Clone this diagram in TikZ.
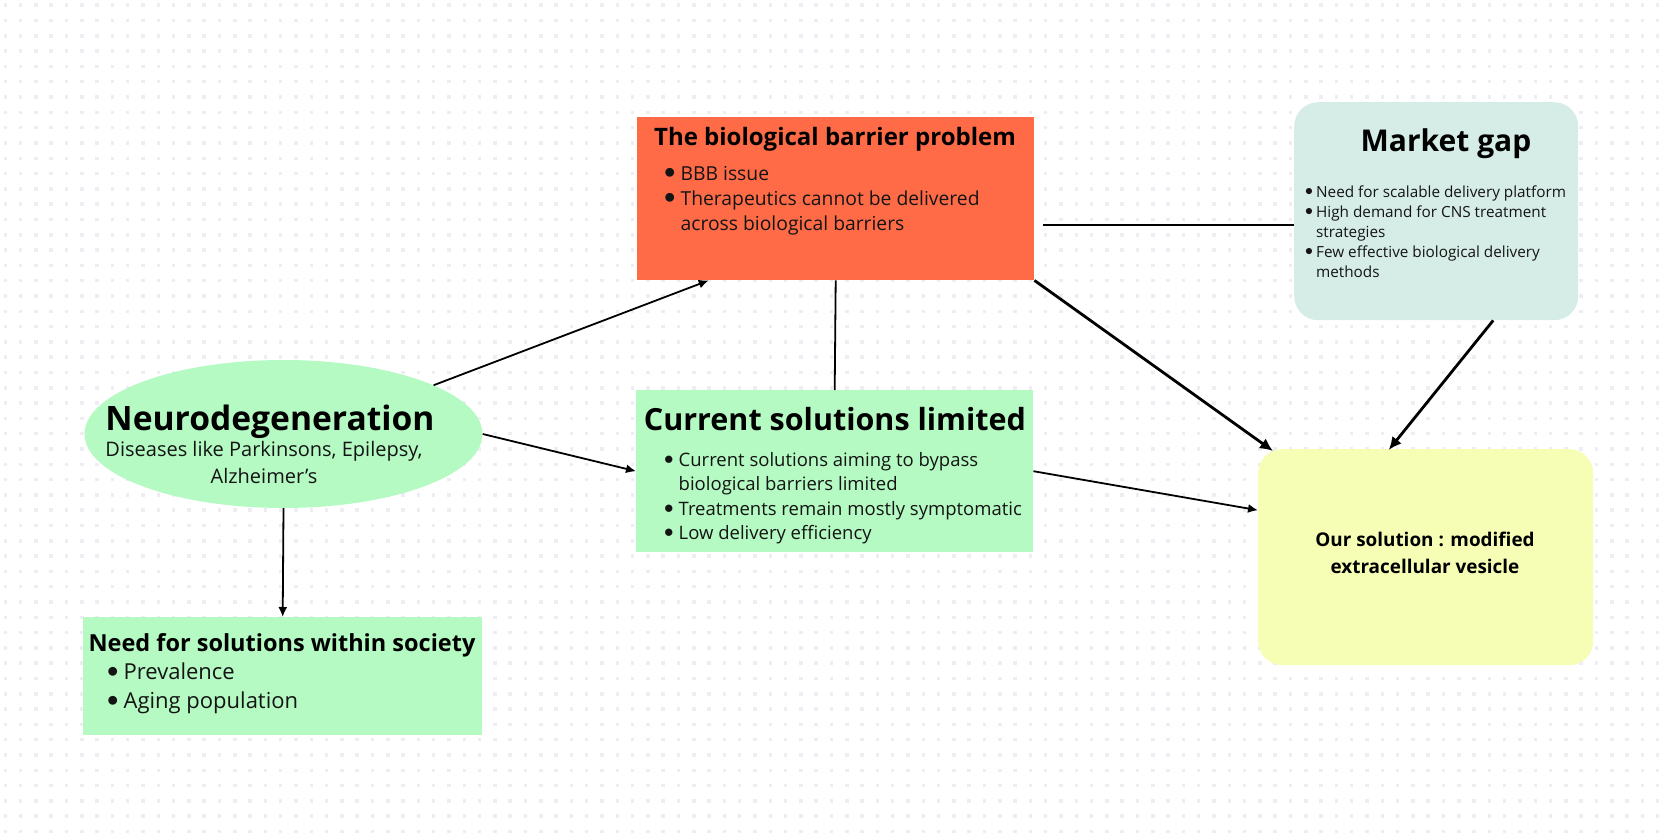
\documentclass[tikz,border=0pt]{standalone}
\usepackage{fontspec}
\setmainfont{Open Sans}
\usetikzlibrary{shapes.geometric,arrows.meta}
\definecolor{barrierfill}{HTML}{FF6B47}
\definecolor{greenfill}{HTML}{B4FAC2}
\definecolor{marketfill}{HTML}{D5EDE6}
\definecolor{solfill}{HTML}{F6FDB5}
\definecolor{dotgrey}{HTML}{EDEDF3}
\definecolor{ink}{HTML}{141414}
\newcommand{\fs}[2]{\fontsize{#1}{#2}\selectfont}
\newcommand{\bul}{\raisebox{0.09em}{\scalebox{1.1}{$\bullet$}}}

\begin{document}
\begin{tikzpicture}[x=1pt,y=-1pt,
    box/.style={rectangle, inner sep=0pt, anchor=north west},
    head/.style={anchor=base, inner sep=0pt, text=black},
    list/.style={anchor=base west, inner sep=0pt, text=ink},
    link/.style={line width=1.8pt, -{Latex[length=10pt,width=9pt]}},
    boldlink/.style={line width=2.8pt, -{Latex[length=13pt,width=12pt]}},
    plain/.style={line width=1.8pt}]
  \useasboundingbox (0,0) rectangle (1670,840);
  % dotted canvas
  \foreach \i in {0,...,108}
    \foreach \j in {0,...,54}
      \fill[dotgrey] (3.5+\i*15.3,3.5+\j*15.3) rectangle +(3.5,3.5);

  % boxes
  \node[box, fill=barrierfill, minimum width=397pt, minimum height=163pt] (barrier) at (637,117) {};
  \node[box, fill=marketfill, rounded corners=24pt, minimum width=284pt, minimum height=218pt] (market) at (1294,102) {};
  \node[ellipse, fill=greenfill, inner sep=0pt, minimum width=398pt, minimum height=148pt] (neuro) at (283.5,434) {};
  \node[box, fill=greenfill, minimum width=397pt, minimum height=162pt] (current) at (636,390) {};
  \node[box, fill=greenfill, minimum width=399pt, minimum height=118pt] (need) at (83,617) {};
  \node[box, fill=solfill, rounded corners=24pt, minimum width=335pt, minimum height=216pt] (oursol) at (1258,449) {};

  % texts
  \node[head, font=\fs{24}{28}\bfseries] (barrierhead) at (835,146) {The biological barrier problem};
  \node[list, font=\fs{19.3}{25}] (barrierlist) at (664,180) {\begin{tabular}[t]{@{}l@{\hspace{5pt}}l@{}}
    \bul & BBB issue\\
    \bul & Therapeutics cannot be delivered\\
     & across biological barriers
  \end{tabular}};

  \node[head, font=\fs{30}{36}\bfseries] (markethead) at (1446,152) {Market gap};
  \node[list, font=\fs{15.3}{20}] (marketlist) at (1305,197) {\begin{tabular}[t]{@{}l@{\hspace{3pt}}l@{}}
    \bul & Need for scalable delivery platform\\
    \bul & High demand for CNS treatment\\
     & strategies\\
    \bul & Few effective biological delivery\\
     & methods
  \end{tabular}};

  \node[head, font=\fs{33.6}{40}\bfseries] (neurohead) at (270,430) {Neurodegeneration};
  \node[head, font=\fs{20}{27}, text=ink] (neurosub) at (264,456) {\begin{tabular}[t]{@{}c@{}}
    Diseases like Parkinsons, Epilepsy,\\
    Alzheimer's
  \end{tabular}};

  \node[head, font=\fs{30.5}{38}\bfseries] (currenthead) at (835,430) {Current solutions limited};
  \node[list, font=\fs{18.5}{24.5}] (currentlist) at (664,466) {\begin{tabular}[t]{@{}l@{\hspace{5pt}}l@{}}
    \bul & Current solutions aiming to bypass\\
     & biological barriers limited\\
    \bul & Treatments remain mostly symptomatic\\
    \bul & Low delivery efficiency
  \end{tabular}};

  \node[head, font=\fs{23.5}{28}\bfseries] (needhead) at (282,651) {Need for solutions within society};
  \node[list, font=\fs{22}{28.5}] (needlist) at (107,679.5) {\begin{tabular}[t]{@{}l@{\hspace{5pt}}l@{}}
    \bul & Prevalence\\
    \bul & Aging population
  \end{tabular}};

  \node[head, font=\fs{18.9}{27}\bfseries] (oursolhead) at (1425,546) {\begin{tabular}[t]{@{}c@{}}
    Our solution : modified\\
    extracellular vesicle
  \end{tabular}};

  % connectors
  \draw[link] (neuro.18.6) -- ([xshift=-127pt]barrier.south);
  \draw[link] (neuro.east) -- (current.west);
  \draw[link] (neuro.south) -- (need.north);
  \draw[plain] (barrier.south) -- (current.north);
  \draw[plain] ([xshift=9pt,yshift=-26.5pt]barrier.east) -- ([yshift=-14pt]market.west);
  \draw[boldlink] (barrier.south east) -- ([xshift=15pt,yshift=-2pt]oursol.north west);
  \draw[boldlink] ([xshift=57pt]market.south) -- ([xshift=-37pt,yshift=-1pt]oursol.north);
  \draw[link] (current.east) -- ([yshift=47pt]oursol.west);
\end{tikzpicture}
\end{document}
